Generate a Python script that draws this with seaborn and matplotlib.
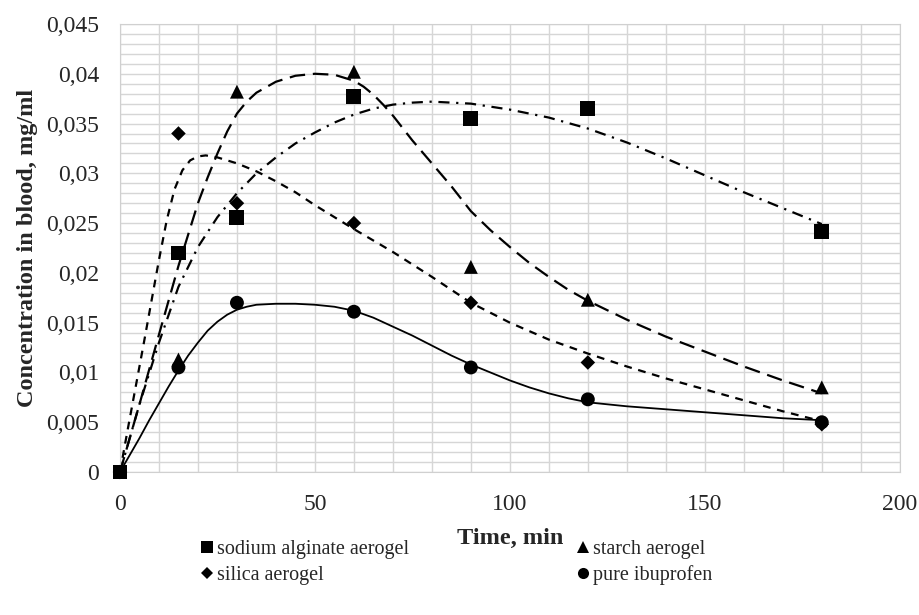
import numpy as np
import pandas as pd
import seaborn as sns
import matplotlib.pyplot as plt
from matplotlib.ticker import MultipleLocator

# ---- data ----
time_pts = [0, 15, 30, 60, 90, 120, 180]
alginate = [0, 0.0220, 0.0256, 0.0377, 0.0355, 0.0365, 0.0242]
starch = [0, 0.0113, 0.0382, 0.0402, 0.0206, 0.0173, 0.0085]
silica = [0, 0.0340, 0.0270, 0.0250, 0.0170, 0.0110, 0.0048]
ibuprofen = [0, 0.0105, 0.0170, 0.0161, 0.0105, 0.0073, 0.0050]

# legend order (two columns) and drawing order (squares end up on top)
names = ['sodium alginate aerogel', 'silica aerogel', 'starch aerogel', 'pure ibuprofen']
draw_order = ['pure ibuprofen', 'silica aerogel', 'starch aerogel', 'sodium alginate aerogel']

# trend curves
alg_t = [0, 5, 10, 15, 20, 25, 30, 35, 40, 45, 50, 55, 60, 65, 70, 75, 80, 85, 90, 100,
         110, 120, 130, 140, 150, 160, 170, 180]
alg_c = [0, 0.0068, 0.0130, 0.0186, 0.0226, 0.0256, 0.0280, 0.0300, 0.0316, 0.0330, 0.0341,
         0.0351, 0.0359, 0.0365, 0.0369, 0.0371, 0.0372, 0.0371, 0.0370, 0.0364, 0.0356,
         0.0345, 0.0331, 0.0315, 0.0298, 0.0281, 0.0265, 0.0249]
sta_t = [0, 5, 10, 15, 20, 22.5, 25, 27.5, 30, 32.5, 35, 40, 45, 50, 55, 60, 62.5, 65, 67.5,
         70, 75, 80, 85, 90, 95, 100, 105, 110, 115, 120, 130, 140, 150, 160, 170, 180]
sta_c = [0, 0.0068, 0.0138, 0.0207, 0.0270, 0.0296, 0.0320, 0.0342, 0.0360, 0.0372, 0.0381,
         0.0392, 0.0398, 0.0400, 0.0399, 0.0393, 0.0387, 0.0379, 0.0369, 0.0358, 0.0333,
         0.0310, 0.0287, 0.0262, 0.0243, 0.0226, 0.0210, 0.0196, 0.0183, 0.0172, 0.0153,
         0.0136, 0.0121, 0.0106, 0.0092, 0.0079]
sil_t = [0, 2, 4, 6, 8, 10, 12, 14, 16, 18, 20, 22, 25, 30, 35, 40, 45, 50, 55, 60, 70, 80,
         90, 100, 110, 120, 130, 140, 150, 160, 170, 180]
sil_c = [0, 0.0043, 0.0085, 0.0127, 0.0170, 0.0213, 0.0253, 0.0284, 0.0303, 0.0313, 0.0317,
         0.0318, 0.0316, 0.0310, 0.0302, 0.0292, 0.0281, 0.0268, 0.0256, 0.0244, 0.0221,
         0.0196, 0.0170, 0.0150, 0.0133, 0.0119, 0.0106, 0.0094, 0.0083, 0.0072, 0.0061, 0.0051]
ibu_t = [0, 2.5, 5, 7.5, 10, 12.5, 15, 17.5, 20, 22.5, 25, 27.5, 30, 32.5, 35, 40, 45, 50, 55,
         60, 65, 70, 75, 80, 85, 90, 95, 100, 105, 110, 115, 120, 125, 130, 140, 150, 160, 170, 180]
ibu_c = [0, 0.0017, 0.0034, 0.0052, 0.0069, 0.0086, 0.0102, 0.0117, 0.0130, 0.0142, 0.0151,
         0.0158, 0.0163, 0.0166, 0.0168, 0.0169, 0.0169, 0.0168, 0.0166, 0.0162, 0.0155,
         0.0146, 0.0137, 0.0127, 0.0117, 0.0108, 0.0100, 0.0092, 0.0085, 0.0079, 0.0074,
         0.0070, 0.0068, 0.0066, 0.0063, 0.0060, 0.0057, 0.0054, 0.0052]

x_ticks = [0, 50, 100, 150, 200]
y_ticks = [0, 0.005, 0.01, 0.015, 0.02, 0.025, 0.03, 0.035, 0.04, 0.045]
y_labels = ['0', '0,005', '0,01', '0,015', '0,02', '0,025', '0,03', '0,035', '0,04', '0,045']

series = {'sodium alginate aerogel': alginate, 'starch aerogel': starch,
          'silica aerogel': silica, 'pure ibuprofen': ibuprofen}
pts = pd.DataFrame({
    'time': time_pts * 4,
    'conc': [v for n in draw_order for v in series[n]],
    'formulation': [n for n in draw_order for _ in time_pts],
})

sns.set_style('white')
plt.rcParams['font.family'] = ['Liberation Serif', 'DejaVu Serif']

fig, ax = plt.subplots(figsize=(9.2, 6.15), dpi=100)
fig.subplots_adjust(left=0.1304, right=0.978, top=0.961, bottom=0.2325)

# curves
sns.lineplot(x=alg_t, y=alg_c, ax=ax, color='black', lw=1.6, linestyle=(0, (5, 3, 1, 3)), legend=False)
sns.lineplot(x=sta_t, y=sta_c, ax=ax, color='black', lw=1.6, linestyle=(0, (7, 3.5)), legend=False)
sns.lineplot(x=sil_t, y=sil_c, ax=ax, color='black', lw=1.6, linestyle=(0, (3.5, 3)), legend=False)
sns.lineplot(x=ibu_t, y=ibu_c, ax=ax, color='black', lw=1.3, legend=False)

# markers
sns.scatterplot(data=pts, x='time', y='conc', hue='formulation', style='formulation',
                size='formulation', hue_order=names, style_order=names, size_order=names,
                palette=['black'] * 4,
                markers={'sodium alginate aerogel': 's', 'silica aerogel': 'D',
                         'starch aerogel': '^', 'pure ibuprofen': 'o'},
                sizes={'sodium alginate aerogel': 115, 'silica aerogel': 55,
                       'starch aerogel': 100, 'pure ibuprofen': 100},
                edgecolor='black', linewidth=0, ax=ax, zorder=5, clip_on=False)

ax.set_xlim(0, 200)
ax.set_ylim(0, 0.045)
ax.set_xticks(x_ticks)
ax.set_xticklabels([str(v) for v in x_ticks])
ax.set_yticks(y_ticks)
ax.set_yticklabels(y_labels)
ax.xaxis.set_minor_locator(MultipleLocator(10))
ax.yaxis.set_minor_locator(MultipleLocator(0.001))
ax.grid(True, which='both', color='#d6d6d6', linewidth=1)
ax.set_axisbelow(True)
for sp in ax.spines.values():
    sp.set_color('#d0d0d0')
ax.tick_params(axis='both', which='major', labelsize=17, length=4, color='#d0d0d0',
               direction='out')
ax.tick_params(axis='y', which='major', pad=11)
ax.tick_params(axis='x', which='major', pad=12)
ax.tick_params(axis='both', which='minor', length=0)

ax.set_xlabel('Time, min', fontsize=17.5, fontweight='bold', labelpad=9)
ax.set_ylabel('Concentration in blood, mg/ml', fontsize=17.5, fontweight='bold', labelpad=6)

sns.move_legend(ax, 'upper left', bbox_to_anchor=(0.075, -0.112), ncol=2, frameon=False,
                title=None, fontsize=14.5, markerscale=0.8, handletextpad=0.0,
                handlelength=1.0, columnspacing=8.15, labelspacing=0.3)

fig.savefig('out.png', dpi=100)
